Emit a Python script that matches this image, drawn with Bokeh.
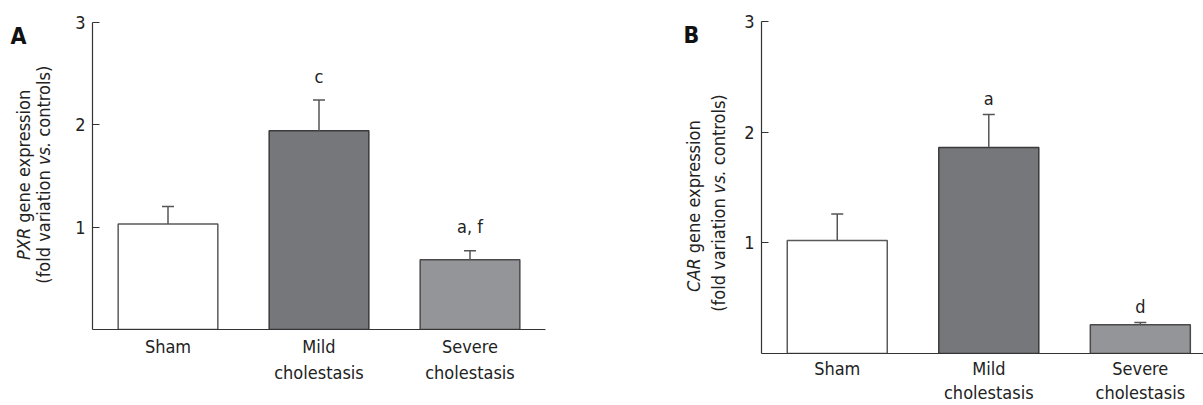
import numpy as np
from bokeh.plotting import figure
from bokeh.layouts import row
from bokeh.models import Range1d, FixedTicker
from bokeh.core.properties import value
from bokeh.embed import file_html
from bokeh.resources import INLINE

# ---------------- data ----------------
groups = ["Sham", "Mild cholestasis", "Severe cholestasis"]
tick_labels = ["Sham", "Mild\ncholestasis", "Severe\ncholestasis"]
pxr_mean = [1.03, 1.94, 0.68]
pxr_err = [0.17, 0.30, 0.09]
pxr_sig = ["", "c", "a, f"]
car_mean = [1.02, 1.86, 0.26]
car_err = [0.24, 0.30, 0.02]
car_sig = ["", "a", "d"]
y_ticks = [1, 2, 3]

# ---------------- style ----------------
FONT = "DejaVu Sans Condensed"
FS = 18
H = 405          # canvas height
fills = ["#ffffff", "#76777b", "#949599"]
outlines = ["#5a5a5a", "#3a3a3a", "#4a4a4a"]
AX = "#333333"
ERR = "#555555"
TXT = "#222222"

W = {" ": .318, "(": .390, ")": .390, ".": .318, "a": .613, "c": .550, "d": .635,
     "e": .615, "f": .352, "g": .635, "i": .278, "l": .278, "n": .634, "o": .612,
     "p": .635, "r": .411, "s": .521, "t": .392, "v": .592, "x": .592, "A": .684,
     "C": .698, "P": .603, "R": .695, "X": .685}


def tw(s):
    return sum(W.get(ch, .6) for ch in s) * 0.9 * FS


def label_fig(width, fb, letter, letter_xy, line1, line2):
    """Narrow figure holding the rotated y-axis title and the panel letter.
    Its data units are page pixels (y measured upward from the canvas bottom)."""
    f = figure(width=width, height=H, x_range=Range1d(0, width), y_range=Range1d(H - fb, H),
               x_axis_type=None, y_axis_type=None, output_backend="svg",
               toolbar_location=None, min_border_left=0, min_border_right=0,
               min_border_top=0, min_border_bottom=H - fb)
    f.outline_line_color = None
    f.xgrid.visible = False
    f.ygrid.visible = False
    for (x0, cy, pieces) in (line1, line2):
        total = sum(tw(t) for t, _ in pieces)
        pos = (H - cy) - total / 2
        for t, it in pieces:
            lead = tw(t) - tw(t.lstrip())
            f.text(x=[x0], y=[pos + lead], text=[t.strip()], angle=np.pi / 2,
                   text_align="left", text_baseline="middle", text_font=value(FONT),
                   text_font_size=f"{FS}px",
                   text_font_style="italic" if it else "normal", text_color=TXT)
            pos += tw(t)
    f.text(x=[letter_xy[0]], y=[H - letter_xy[1]], text=[letter], text_align="left",
           text_baseline="alphabetic", text_font=value(FONT), text_font_size="23px",
           text_font_style="bold", text_color="#111111")
    return f


def panel(mean, err, sig, width, x_end, b_left, b_right, y0_page, y3_page, sig_off,
          standoff, line_h):
    x = np.arange(len(groups)) + 0.5
    s = (y0_page - y3_page) / 3.0
    y_top = 3 + y3_page / s
    p = figure(width=width, height=H, x_range=Range1d(0, x_end),
               y_range=Range1d(0, y_top),
               output_backend="svg", toolbar_location=None,
               min_border_left=b_left, min_border_right=b_right,
               min_border_top=0, min_border_bottom=H - y0_page)
    p.background_fill_color = "white"
    p.border_fill_color = "white"
    p.outline_line_color = None
    p.xgrid.visible = False
    p.ygrid.visible = False

    p.vbar(x=x, top=mean, bottom=0, width=0.66, fill_color=fills,
           line_color=outlines, line_width=1.5)
    tops = np.array(mean) + np.array(err)
    p.segment(x0=x, y0=mean, x1=x, y1=tops, line_color=ERR, line_width=1.5)
    p.scatter(x=x, y=tops, marker="dash", size=12, line_color=ERR, line_width=1.5)
    p.text(x=x, y=tops, text=sig, y_offset=-sig_off, text_align="center",
           text_baseline="middle", text_font=value(FONT), text_font_size=f"{FS}px",
           text_color=TXT)

    p.yaxis.ticker = FixedTicker(ticks=y_ticks)
    p.yaxis.bounds = (0, 3)
    p.yaxis.major_tick_in = 7
    p.yaxis.major_tick_out = 0
    p.yaxis.minor_tick_line_color = None
    p.yaxis.major_label_standoff = 7
    p.yaxis.major_tick_line_color = AX
    p.xaxis.ticker = FixedTicker(ticks=list(x))
    p.xaxis.major_label_overrides = {float(xi): lab for xi, lab in zip(x, tick_labels)}
    p.xaxis.major_tick_line_color = None
    p.xaxis.minor_tick_line_color = None
    p.xaxis.major_label_standoff = standoff
    p.xaxis.major_label_text_line_height = line_h
    for ax in (p.xaxis, p.yaxis):
        ax.axis_line_color = AX
        ax.axis_line_width = 1.2
        ax.major_label_text_font = FONT
        ax.major_label_text_font_size = f"{FS}px"
        ax.major_label_text_color = TXT
    return p


labA = label_fig(70, 329, "A", (10, 35),
                 (23, 174, [("PXR", True), (" gene expression", False)]),
                 (43, 174, [("(fold variation ", False), ("vs.", True), (" controls)", False)]))
pA = panel(pxr_mean, pxr_err, pxr_sig, 530, 3.0, 22, 55, 329, 21.7, 24, 0, 1.25)

labB = label_fig(140, 354, "B", (83, 35),
                 (93, 206, [("CAR", True), (" gene expression", False)]),
                 (118, 203, [("(fold variation ", False), ("vs.", True), (" controls)", False)]))
pB = panel(car_mean, car_err, car_sig, 463, 2.917, 21, 0, 354, 21, 16, -2, 1.15)

layout = row(row(labA, pA, spacing=0), row(labB, pB, spacing=0), spacing=0)
open("out.html", "w").write(file_html(layout, INLINE))
